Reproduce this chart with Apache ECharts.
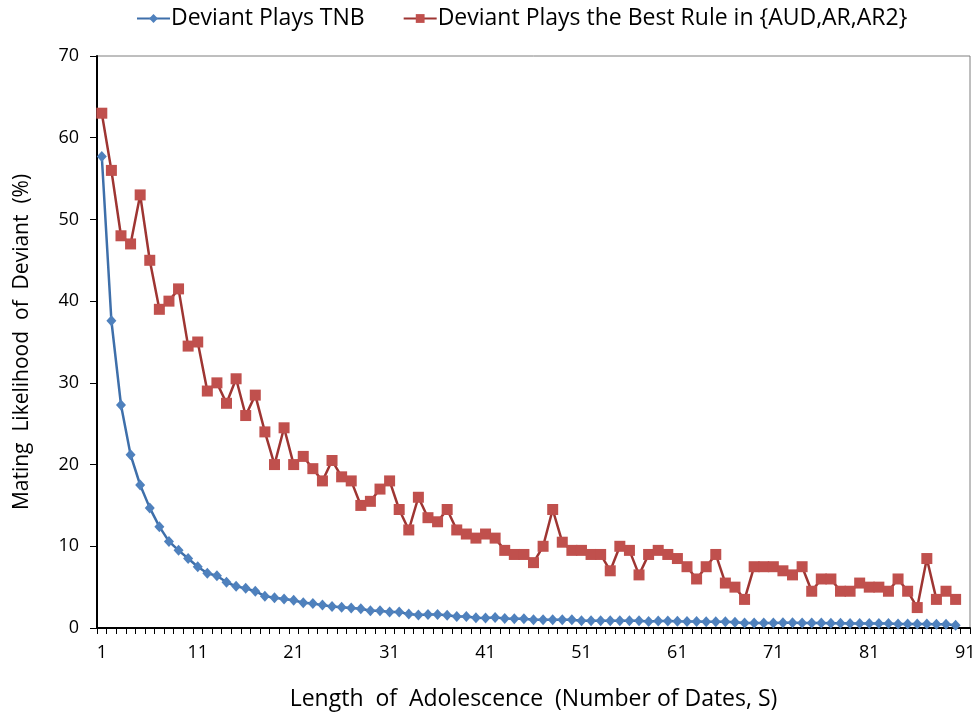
<!DOCTYPE html>
<html>
<head>
<meta charset="utf-8">
<script src="https://cdn.jsdelivr.net/npm/echarts@6/dist/echarts.min.js"></script>
<style>
html,body{margin:0;padding:0;background:#fff;}
#chart{width:977px;height:714px;}
</style>
</head>
<body>
<div id="chart"></div>
<script>
// x categories 1..91 (last category has no data)
const categories = [];
for (let i = 1; i <= 91; i++) categories.push(String(i));

const tnbValues = [
  57.7, 37.6, 27.3, 21.2, 17.5, 14.7, 12.4, 10.6, 9.5, 8.5,
  7.5, 6.7, 6.4, 5.6, 5.1, 4.85, 4.5, 3.9, 3.7, 3.55,
  3.4, 3.1, 3.0, 2.8, 2.64, 2.55, 2.44, 2.36, 2.1, 2.1,
  1.95, 1.95, 1.7, 1.6, 1.65, 1.65, 1.55, 1.42, 1.42, 1.25,
  1.22, 1.3, 1.15, 1.14, 1.14, 1.0, 1.0, 1.0, 1.0, 1.0,
  0.9, 0.9, 0.9, 0.88, 0.88, 0.88, 0.88, 0.8, 0.85, 0.85,
  0.82, 0.8, 0.8, 0.78, 0.75, 0.75, 0.7, 0.62, 0.6, 0.6,
  0.6, 0.65, 0.65, 0.6, 0.6, 0.6, 0.58, 0.58, 0.55, 0.55,
  0.55, 0.55, 0.55, 0.5, 0.5, 0.48, 0.48, 0.45, 0.45, 0.35
];

const bestRuleValues = [
  63, 56, 48, 47, 53, 45, 39, 40, 41.5, 34.5,
  35, 29, 30, 27.5, 30.5, 26, 28.5, 24, 20, 24.5,
  20, 21, 19.5, 18, 20.5, 18.5, 18, 15, 15.5, 17,
  18, 14.5, 12, 16, 13.5, 13, 14.5, 12, 11.5, 11,
  11.5, 11, 9.5, 9, 9, 8, 10, 14.5, 10.5, 9.5,
  9.5, 9, 9, 7, 10, 9.5, 6.5, 9, 9.5, 9,
  8.5, 7.5, 6, 7.5, 9, 5.5, 5, 3.5, 7.5, 7.5,
  7.5, 7, 6.5, 7.5, 4.5, 6, 6, 4.5, 4.5, 5.5,
  5, 5, 4.5, 6, 4.5, 2.5, 8.5, 3.5, 4.5, 3.5
];

const seriesNames = ['Deviant Plays TNB', 'Deviant Plays the Best Rule in {AUD,AR,AR2}'];
const yTicks = { min: 0, max: 70, interval: 10 };

const FONT = 'Open Sans';
const chart = echarts.init(document.getElementById('chart'), null, { renderer: 'canvas' });
chart.setOption({
  animation: false,
  backgroundColor: '#ffffff',
  textStyle: { fontFamily: FONT },
  legend: {
    top: 2,
    left: 131,
    itemGap: 38,
    itemWidth: 33,
    itemHeight: 11,
    textStyle: { fontFamily: FONT, fontSize: 23, color: '#000', padding: [0, 0, 0, -4] },
    data: seriesNames
  },
  grid: {
    left: 97, right: 7, top: 56, bottom: 86,
    containLabel: false,
    outerBoundsMode: 'none',
    show: true, borderColor: '#7f7f7f', borderWidth: 1
  },
  xAxis: {
    type: 'category',
    data: categories,
    boundaryGap: true,
    name: 'Length  of  Adolescence  (Number of Dates, S)',
    nameLocation: 'middle',
    nameGap: 60,
    nameTextStyle: { fontFamily: FONT, fontSize: 23, color: '#000' },
    axisLine: { lineStyle: { color: '#000', width: 2 } },
    axisTick: { show: true, interval: 0, length: 6, alignWithLabel: false, lineStyle: { color: '#000', width: 1 } },
    axisLabel: { interval: 9, margin: 16, fontFamily: FONT, fontSize: 18, color: '#000' },
    splitLine: { show: false }
  },
  yAxis: {
    type: 'value',
    min: yTicks.min, max: yTicks.max, interval: yTicks.interval,
    name: 'Mating  Likelihood  of  Deviant  (%)',
    nameLocation: 'middle',
    nameRotate: 90,
    nameGap: 64,
    nameTextStyle: { fontFamily: FONT, fontSize: 21, color: '#000' },
    axisLine: { show: true, lineStyle: { color: '#000', width: 2 } },
    axisTick: { show: true, length: 7, lineStyle: { color: '#000', width: 1 } },
    axisLabel: { margin: 18, fontFamily: FONT, fontSize: 18, color: '#000' },
    splitLine: { show: false }
  },
  series: [
    {
      name: seriesNames[0],
      type: 'line',
      data: tnbValues,
      symbol: 'diamond',
      symbolSize: [10, 11],
      showAllSymbol: true,
      lineStyle: { color: '#3e6faa', width: 2.5 },
      itemStyle: { color: '#4f81bd' },
      z: 3
    },
    {
      name: seriesNames[1],
      type: 'line',
      data: bestRuleValues,
      symbol: 'rect',
      symbolSize: 11,
      showAllSymbol: true,
      lineStyle: { color: '#9e3532', width: 2.5 },
      itemStyle: { color: '#c0504d' },
      z: 2
    }
  ]
});
</script>
</body>
</html>
